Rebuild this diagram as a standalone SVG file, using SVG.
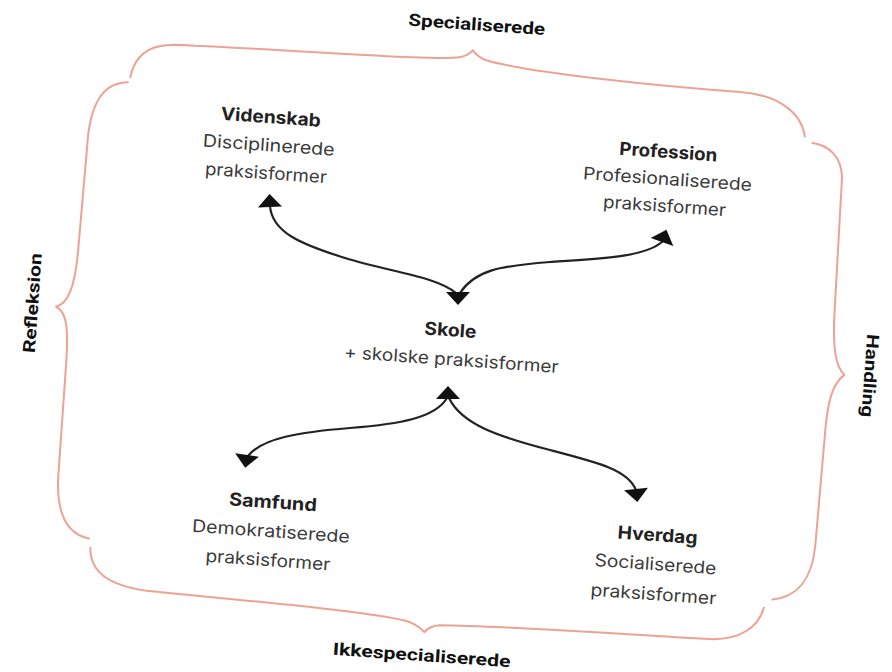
<svg xmlns="http://www.w3.org/2000/svg" xmlns:xlink="http://www.w3.org/1999/xlink" width="892" height="672" viewBox="0 0 892 672">
<style>
.brace{fill:none;stroke:#eea293;stroke-width:2;stroke-linecap:round;stroke-linejoin:round}
.conn{fill:none;stroke:#222;stroke-width:2.2;stroke-linecap:round}
.lbl{font-family:Roboto,"Liberation Sans",sans-serif;font-weight:700;font-size:17px;fill:#111;text-anchor:middle}
.ttl{font-family:Inter,"Liberation Sans",sans-serif;font-weight:700;font-size:18px;fill:#222;text-anchor:middle}
.bdy{font-family:Inter,"Liberation Sans",sans-serif;font-weight:400;font-size:17.5px;fill:#3a3a3a;text-anchor:middle}
.ah{fill:#111}
</style>
<defs>
<path id="ah" d="M-12,0 L12,0 L0,13 Z"/>
</defs>
<rect width="892" height="672" fill="#fff"/>
<g id="frame" transform="rotate(4 446 336)">
  <g id="braces">
    <path class="brace" d="M111,105 C88,107 77,125 75,160 L73,280 C72,315 66,330 55,334 C66,338 69,355 69,390 L69,505 C70,540 82,560 104,563"/>
    <path class="brace" d="M113,100 C115,85 122,72 140,67 C150,64 160,64 175,64 C300,61 420,62 440,57 C448,55 451,52 453,49 C455,52 458,55 466,58 C510,68 650,72 722,72 C760,72 785,88 790,112"/>
    <path class="brace" d="M798,118 C815,119 828,130 830,150 L832,290 C833,320 836,338 846,347 C836,356 832,370 831,400 L829,520 C828,552 815,572 790,576"/>
    <path class="brace" d="M106,572 C107,595 125,608 165,611 C260,614 400,616 430,624 C438,627 442,630 445,633 C448,629 452,626 460,625 C520,621 660,621 730,620 C760,619 778,605 782,585"/>
  </g>
  <g id="labels">
    <text class="lbl" x="455" y="29" textLength="137" lengthAdjust="spacingAndGlyphs">Specialiserede</text>
    <text class="lbl" x="444" y="662" textLength="178" lengthAdjust="spacingAndGlyphs">Ikkespecialiserede</text>
    <text class="lbl" transform="translate(31,332) rotate(-90)" y="6" textLength="100" lengthAdjust="spacingAndGlyphs">Refleksion</text>
    <text class="lbl" transform="translate(872,346) rotate(90)" y="6" textLength="83" lengthAdjust="spacingAndGlyphs">Handling</text>
  </g>
  <g id="videnskab">
    <text class="ttl" x="256" y="136" textLength="100" lengthAdjust="spacingAndGlyphs">Videnskab</text>
    <text class="bdy" x="256" y="164" textLength="132" lengthAdjust="spacingAndGlyphs">Disciplinerede</text>
    <text class="bdy" x="255" y="192" textLength="122" lengthAdjust="spacingAndGlyphs">praksisformer</text>
  </g>
  <g id="profession">
    <text class="ttl" x="655" y="143" textLength="98" lengthAdjust="spacingAndGlyphs">Profession</text>
    <text class="bdy" x="656" y="170" textLength="169" lengthAdjust="spacingAndGlyphs">Profesionaliserede</text>
    <text class="bdy" x="655" y="197" textLength="123" lengthAdjust="spacingAndGlyphs">praksisformer</text>
  </g>
  <g id="skole">
    <text class="ttl" x="450" y="336" textLength="52" lengthAdjust="spacingAndGlyphs">Skole</text>
    <text class="bdy" x="453" y="365" textLength="215" lengthAdjust="spacingAndGlyphs">+ skolske praksisformer</text>
  </g>
  <g id="samfund">
    <text class="ttl" x="285" y="520" textLength="88" lengthAdjust="spacingAndGlyphs">Samfund</text>
    <text class="bdy" x="285" y="549" textLength="158" lengthAdjust="spacingAndGlyphs">Demokratiserede</text>
    <text class="bdy" x="284" y="578" textLength="125" lengthAdjust="spacingAndGlyphs">praksisformer</text>
  </g>
  <g id="hverdag">
    <text class="ttl" x="671" y="526" textLength="80" lengthAdjust="spacingAndGlyphs">Hverdag</text>
    <text class="bdy" x="671" y="555" textLength="122" lengthAdjust="spacingAndGlyphs">Socialiserede</text>
    <text class="bdy" x="671" y="585" textLength="126" lengthAdjust="spacingAndGlyphs">praksisformer</text>
  </g>
</g>
<g id="connectors">
  <path class="conn" d="M270,206 C272,232 300,244 345,258 C390,272 435,276 456,293"/>
  <path class="conn" d="M460,293 C475,270 500,266 550,262 C610,258 645,256 662,242"/>
  <path class="conn" d="M447,398 C435,418 400,424 350,428 C300,432 262,438 248,456"/>
  <path class="conn" d="M449,398 C462,425 500,437 550,450 C600,463 628,470 636,490"/>
  <use href="#ah" class="ah" transform="translate(458,292)"/>
  <use href="#ah" class="ah" transform="translate(270,207) rotate(178)"/>
  <use href="#ah" class="ah" transform="translate(662,242) rotate(200)"/>
  <use href="#ah" class="ah" transform="translate(448,399) rotate(180)"/>
  <use href="#ah" class="ah" transform="translate(247,455) rotate(8)"/>
  <use href="#ah" class="ah" transform="translate(636,489) rotate(-6)"/>
</g>
</svg>
